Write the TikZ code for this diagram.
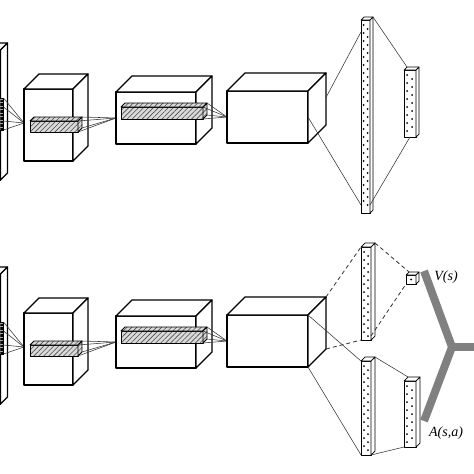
\documentclass[tikz,border=0pt]{standalone}
\usepackage{fontspec}
\setmainfont{Liberation Serif}
\usetikzlibrary{calc,patterns.meta}

% front face at (#3,#4), width #5, height #6, depth #7
\newcommand{\cuboid}[7][]{%
  \filldraw[#1] (#3,#4) -- ++(#5,0) -- ++(0,#6) -- ++(-#5,0) -- cycle;
  \filldraw[#1] (#3,#4) -- ++(#7,-#7) -- ++(#5,0) -- ++(-#7,#7) -- cycle;
  \filldraw[#1] (#3+#5,#4) -- ++(#7,-#7) -- ++(0,#6) -- ++(-#7,#7) -- cycle;
  \coordinate (#2-ftl) at (#3,#4);
  \coordinate (#2-ftr) at (#3+#5,#4);
  \coordinate (#2-fbl) at (#3,#4+#6);
  \coordinate (#2-fbr) at (#3+#5,#4+#6);
  \coordinate (#2-btl) at (#3+#7,#4-#7);
  \coordinate (#2-btr) at (#3+#5+#7,#4-#7);
  \coordinate (#2-bbr) at (#3+#5+#7,#4+#6-#7);
}

\begin{document}
\begin{tikzpicture}[x=1pt,y=-1pt,
    boxline/.style={line width=1.3pt,fill=white,line join=round},
    fcbar/.style={line width=0.7pt,fill=white,line join=round},
    hatchbar/.style={line width=0.8pt,line join=round,
      preaction={fill=black!15},
      pattern={Lines[angle=45,distance=3.5pt,line width=0.6pt]},pattern color=black!70},
    conn/.style={draw=black!80,line width=0.55pt},
    dconn/.style={conn,line width=0.8pt,dash pattern=on 4pt off 3pt},
    stream/.style={draw=black!50,line width=8pt,line join=miter},
    qlabel/.style={font=\fontsize{14}{16}\selectfont\itshape}]
  \useasboundingbox (0,0) rectangle (474,474);
  \clip (0,0) rectangle (474,474);

  % shared convolutional part of both networks
  \foreach \r/\s in {t/0,b/224}{
    \begin{scope}[shift={(0,\s)}]
      \cuboid[boxline]{in\r}{-60}{50}{60.5}{130}{7}
      \draw[line width=0.6pt,preaction={fill=black!35},
        pattern={Lines[angle=0,distance=1.4pt,line width=0.6pt]},
        pattern color=black] (-3,98) rectangle (3.5,130);
      \coordinate (c1\r) at (24,123);
      \foreach \yy in {98,107,121,130} \draw[conn] (3.5,\yy) -- (c1\r);
      % conv 1
      \cuboid[boxline]{cva\r}{24}{89}{49}{72}{15}
      \cuboid[hatchbar]{hta\r}{30}{121}{48}{11}{4}
      \coordinate (c2\r) at (116,118);
      \foreach \a in {ftr,btr,bbr,fbr} \draw[conn] (hta\r-\a) -- (c2\r);
      % conv 2
      \cuboid[boxline]{cvb\r}{116}{92}{80}{52}{16}
      \cuboid[hatchbar]{htb\r}{121}{107}{82}{12}{4}
      \coordinate (c3\r) at (227,117);
      \foreach \a in {ftr,btr,bbr,fbr} \draw[conn] (htb\r-\a) -- (c3\r);
      % conv 3
      \cuboid[boxline]{cvc\r}{227}{91}{81}{52}{18}
    \end{scope}
  }

  % single stream (top)
  \cuboid[fcbar]{fcT}{361}{20}{9}{193}{3}
  \foreach \yy in {25,33,...,208} \fill (363.5,\yy) circle[radius=1pt];
  \foreach \yy in {29,37,...,208} \fill (367.5,\yy) circle[radius=1pt];
  \cuboid[fcbar]{fcU}{404}{70}{12}{67}{3}
  \foreach \yy in {75,83,...,134} \fill (407,\yy) circle[radius=1pt];
  \foreach \yy in {79,87,...,134} \fill (412,\yy) circle[radius=1pt];
  \draw[conn] ($(cvct-btr)!0.47!(cvct-bbr)$) -- ($(fcT-ftl)+(0,12)$);
  \draw[conn] ($(cvct-ftr)!0.5!(cvct-fbr)$) -- ($(fcT-fbl)+(0,-8)$);
  \draw[conn] (fcT-btr) -- (fcU-btl);
  \draw[conn] ($(fcT-fbr)+(0,-8)$) -- ($(fcU-fbl)!0.5!(fcU-fbr)$);

  % dueling streams (bottom)
  \cuboid[fcbar]{fcV}{361}{247}{10}{93}{4}
  \foreach \yy in {252,260,...,336} \fill (364,\yy) circle[radius=1pt];
  \foreach \yy in {256,264,...,336} \fill (368,\yy) circle[radius=1pt];
  \cuboid[fcbar]{vs}{406}{275}{10}{9}{3}
  \fill (411,279.5) circle[radius=1pt];
  \cuboid[fcbar]{fcA}{361}{361}{10}{94}{4}
  \foreach \yy in {366,374,...,451} \fill (364,\yy) circle[radius=1pt];
  \foreach \yy in {370,378,...,451} \fill (368,\yy) circle[radius=1pt];
  \cuboid[fcbar]{fcB}{404}{381}{12}{66}{4}
  \foreach \yy in {386,394,...,444} \fill (407,\yy) circle[radius=1pt];
  \foreach \yy in {390,398,...,444} \fill (412,\yy) circle[radius=1pt];

  \draw[dconn] (cvcb-btr) -- (fcV-ftl);
  \draw[dconn] (cvcb-bbr) -- (fcV-fbl);
  \draw[dconn] (fcV-btr) -- (vs-btl);
  \draw[dconn] ($(fcV-fbr)+(0,-4)$) -- (vs-fbl);
  \draw[conn] (cvcb-ftr) -- (fcA-ftl);
  \draw[conn] (cvcb-fbr) -- (fcA-fbl);
  \draw[conn] (fcA-btr) -- (fcB-btl);
  \draw[conn] (fcA-fbr) -- (fcB-fbl);

  % aggregation
  \coordinate (vtop) at (424,271);
  \coordinate (atop) at (424,421);
  \coordinate (join) at (452,347);
  \coordinate (qout) at (480,347);
  \draw[stream] (vtop) -- (join) -- (atop);
  \draw[stream] (join) -- (qout);

  \node[qlabel] (vlab) at (446,277) {V(s)};
  \node[qlabel] (alab) at (446,433) {A(s,a)};
\end{tikzpicture}
\end{document}
